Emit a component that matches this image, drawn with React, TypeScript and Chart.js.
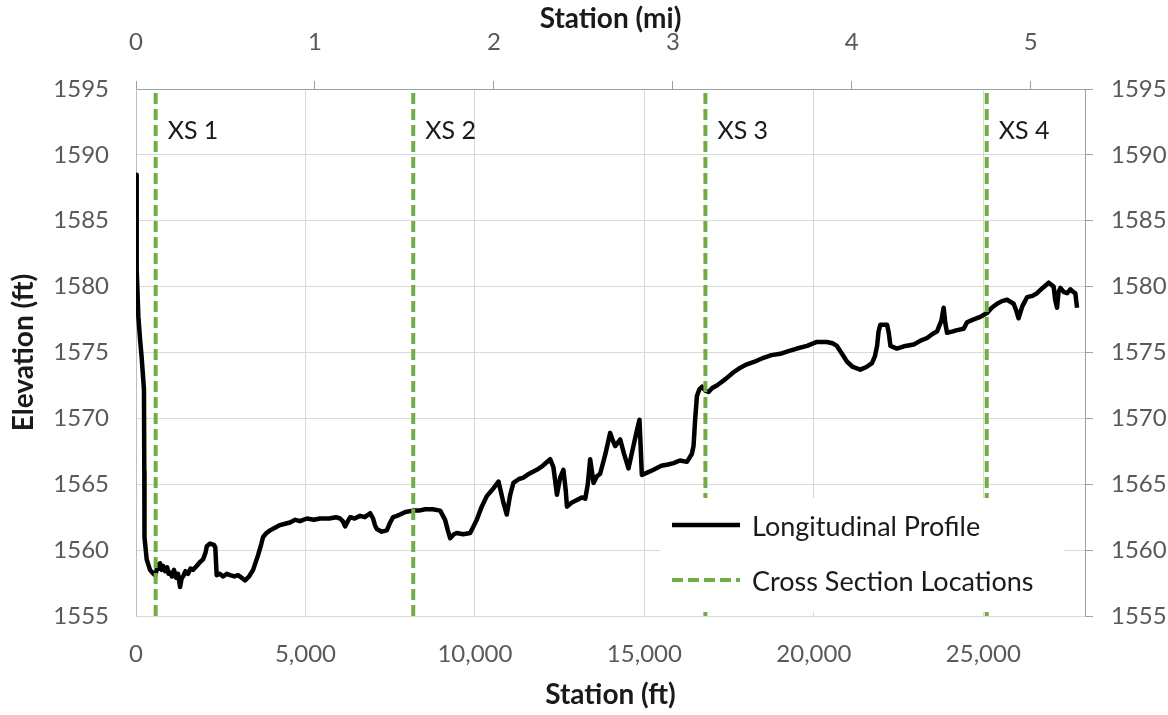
import React, { useEffect, useRef } from "react";
import { Chart, registerables } from "chart.js";

Chart.register(...registerables);

// ---- Data -------------------------------------------------------------
const STATION_FT: number[] = [
  0, 18, 22, 70, 120, 165, 235, 245, 250, 315, 413, 480, 560, 600, 640, 680, 710, 760, 800, 860, 920, 960, 1005,
  1060, 1120, 1180, 1240, 1300, 1350, 1390, 1460, 1535, 1610, 1680, 1790, 1890, 1980, 2050, 2090,
  2185, 2300, 2340, 2380, 2470, 2570, 2680, 2775, 2900, 3010, 3120, 3220, 3335, 3455, 3600, 3700,
  3750, 3850, 3955, 4100, 4250, 4400, 4545, 4700, 4840, 5040, 5250, 5430, 5700, 5900, 6020, 6100,
  6170, 6250, 6320, 6450, 6610, 6750, 6910, 6995, 7050, 7105, 7250, 7400, 7500, 7585, 7700, 7790,
  7950, 8175, 8350, 8530, 8750, 8975, 9120, 9200, 9270, 9380, 9465, 9650, 9860, 10055, 10200, 10350,
  10550, 10695, 10760, 10840, 10940, 11040, 11135, 11300, 11430, 11600, 11825, 12000, 12220, 12315,
  12380, 12420, 12470, 12515, 12610, 12680, 12715, 12850, 13010, 13150, 13255, 13330, 13400, 13450,
  13500, 13600, 13695, 13850, 13990, 14070, 14140, 14200, 14285, 14400, 14530, 14650, 14780, 14855,
  14925, 15100, 15270, 15500, 15700, 15860, 16050, 16255, 16400, 16450, 16500, 16550, 16620, 16700,
  16800, 16895, 17000, 17140, 17400, 17630, 17800, 18025, 18250, 18515, 18750, 19010, 19250, 19500,
  19800, 20090, 20385, 20550, 20680, 20830, 20980, 21150, 21370, 21550, 21715, 21800, 21865, 21910,
  21960, 22160, 22210, 22260, 22450, 22700, 22945, 23150, 23340, 23500, 23635, 23760, 23830, 23880,
  23930, 24100, 24225, 24420, 24520, 24700, 24910, 25110, 25250, 25405, 25550, 25700, 25895, 25970,
  26040, 26150, 26290, 26450, 26585, 26750, 26930, 27075, 27120, 27175, 27220, 27275, 27370, 27470,
  27570, 27650, 27715, 27765,
];

const ELEVATION_FT: number[] = [
  1588.5, 1586.0, 1581.3, 1577.7, 1576.0, 1574.7, 1572.2, 1566.0, 1561.0, 1559.3, 1558.5, 1558.3,
  1558.1, 1558.4, 1558.9, 1558.6, 1559.0, 1558.5, 1558.8, 1558.4, 1558.7, 1558.2, 1558.3, 1558.0, 1558.5, 1557.9, 1558.2,
  1557.2, 1557.9, 1558.0, 1558.4, 1558.2, 1558.6, 1558.5, 1558.8, 1559.1, 1559.3, 1559.8, 1560.3,
  1560.5, 1560.4, 1560.2, 1558.1, 1558.2, 1558.0, 1558.2, 1558.1, 1558.0, 1558.1, 1557.9, 1557.7,
  1558.0, 1558.5, 1559.6, 1560.5, 1561.0, 1561.3, 1561.5, 1561.7, 1561.9, 1562.0, 1562.1, 1562.3,
  1562.2, 1562.4, 1562.3, 1562.4, 1562.4, 1562.5, 1562.4, 1562.2, 1561.8, 1562.2, 1562.5, 1562.4,
  1562.6, 1562.5, 1562.8, 1562.4, 1561.9, 1561.6, 1561.4, 1561.5, 1562.1, 1562.5, 1562.6, 1562.7,
  1562.9, 1563.0, 1563.0, 1563.1, 1563.1, 1563.0, 1562.3, 1561.5, 1560.9, 1561.2, 1561.3, 1561.2,
  1561.3, 1562.3, 1563.3, 1564.1, 1564.7, 1565.2, 1564.5, 1563.6, 1562.7, 1564.2, 1565.1, 1565.4,
  1565.5, 1565.8, 1566.1, 1566.4, 1566.9, 1566.3, 1565.0, 1564.2, 1564.9, 1565.5, 1566.1, 1564.5,
  1563.3, 1563.6, 1563.8, 1564.0, 1563.9, 1565.0, 1566.9, 1566.0, 1565.1, 1565.6, 1565.8, 1567.3,
  1568.9, 1568.3, 1567.9, 1568.1, 1568.4, 1567.3, 1566.2, 1567.6, 1569.1, 1569.9, 1565.7, 1565.9,
  1566.1, 1566.4, 1566.5, 1566.6, 1566.8, 1566.7, 1567.3, 1567.9, 1570.0, 1571.7, 1572.2, 1572.4,
  1572.1, 1572.0, 1572.3, 1572.5, 1573.0, 1573.5, 1573.8, 1574.1, 1574.3, 1574.6, 1574.8, 1574.9,
  1575.1, 1575.3, 1575.5, 1575.8, 1575.8, 1575.7, 1575.5, 1574.9, 1574.3, 1573.9, 1573.7, 1573.9,
  1574.2, 1574.7, 1575.5, 1576.6, 1577.1, 1577.1, 1576.5, 1575.5, 1575.3, 1575.5, 1575.6, 1575.9,
  1576.1, 1576.4, 1576.6, 1577.4, 1578.4, 1577.2, 1576.5, 1576.6, 1576.7, 1576.8, 1577.3, 1577.5,
  1577.7, 1578.0, 1578.4, 1578.7, 1578.9, 1579.0, 1578.7, 1578.2, 1577.6, 1578.5, 1579.2, 1579.3,
  1579.5, 1579.9, 1580.3, 1580.0, 1579.0, 1578.4, 1579.6, 1579.9, 1579.6, 1579.5, 1579.8, 1579.6,
  1579.5, 1578.4,
];

const XS_STATIONS: number[] = [580, 8180, 16800, 25100];
const XS_LABELS: string[] = ["XS 1", "XS 2", "XS 3", "XS 4"];

const SERIES_LABELS: string[] = ["Longitudinal Profile", "Cross Section Locations"];

const FT_TICKS: number[] = [0, 5000, 10000, 15000, 20000, 25000];
const MI_TICKS: number[] = [0, 1, 2, 3, 4, 5];
const ELEV_TICKS: number[] = [1555, 1560, 1565, 1570, 1575, 1580, 1585, 1590, 1595];

const Y_MIN = 1555;
const Y_MAX = 1595;
const X_MIN = 0;
const X_MAX = 28000;
const FT_PER_MILE = 5280;

// ---- Styles -----------------------------------------------------------
const FONT = "Lato, 'Open Sans', sans-serif";
const TICK_COLOR = "#595959";
const TEXT_COLOR = "#1a1a1a";
const GRID_COLOR = "#d9d9d9";
const AXIS_DARK = "#a0a0a0";
const PROFILE_COLOR = "#000000";
const XS_COLOR = "#70AD47";
const XS_DASH = [11, 5];

const setTicks = (values: number[]) => (scale: any) => {
  scale.ticks = values.map((v) => ({ value: v }));
};

const overlayPlugin = {
  id: "overlay",
  afterDatasetsDraw(chart: any) {
    const { ctx, chartArea, scales } = chart;
    ctx.save();
    // cross-section labels
    ctx.font = `25px ${FONT}`;
    ctx.fillStyle = TEXT_COLOR;
    ctx.textAlign = "left";
    ctx.textBaseline = "middle";
    XS_STATIONS.forEach((s, i) => {
      const px = scales.x.getPixelForValue(s) + 12;
      ctx.fillText(XS_LABELS[i], px, chartArea.top + 42);
    });

    // legend box
    const boxW = 404;
    const boxH = 114;
    const bx = chartArea.right - 21 - boxW;
    const by = chartArea.bottom - 4 - boxH;
    ctx.fillStyle = "#ffffff";
    ctx.fillRect(bx, by, boxW, boxH);

    const rows = [by + 27, by + 82];
    chart.data.datasets.forEach((ds: any, i: number) => {
      const y = rows[i];
      ctx.beginPath();
      ctx.strokeStyle = ds.borderColor;
      ctx.lineWidth = ds.borderWidth;
      ctx.setLineDash(ds.borderDash || []);
      ctx.moveTo(bx + 12, y);
      ctx.lineTo(bx + 80, y);
      ctx.stroke();
      ctx.setLineDash([]);
      ctx.font = `27px ${FONT}`;
      ctx.fillStyle = TEXT_COLOR;
      ctx.textBaseline = "middle";
      ctx.fillText(ds.label, bx + 92, y + 2);
    });
    ctx.restore();
  },
};

export default function App() {
  const canvasRef = useRef<HTMLCanvasElement | null>(null);

  useEffect(() => {
    if (!canvasRef.current) return;

    const profileData = STATION_FT.map((x, i) => ({ x, y: ELEVATION_FT[i] }));
    const xsData: any[] = [];
    XS_STATIONS.forEach((s) => {
      xsData.push({ x: s, y: Y_MIN });
      xsData.push({ x: s, y: Y_MAX });
      xsData.push({ x: s, y: null });
    });

    const tickFont = { family: FONT, size: 24 };
    const titleFont = { family: FONT, size: 28, weight: "bold" };

    const chart = new Chart(canvasRef.current, {
      type: "line",
      data: {
        datasets: [
          {
            label: SERIES_LABELS[0],
            data: profileData,
            borderColor: PROFILE_COLOR,
            borderWidth: 4.5,
            pointRadius: 0,
            tension: 0,
            borderJoinStyle: "round",
            xAxisID: "x",
            yAxisID: "y",
            order: 1,
          },
          {
            label: SERIES_LABELS[1],
            data: xsData,
            borderColor: XS_COLOR,
            borderWidth: 4,
            borderDash: XS_DASH,
            pointRadius: 0,
            spanGaps: false,
            xAxisID: "x",
            yAxisID: "y",
            order: 0,
          },
        ],
      },
      options: {
        animation: false,
        responsive: false,
        maintainAspectRatio: false,
        layout: { padding: 0 },
        plugins: {
          legend: { display: false },
          tooltip: { enabled: false },
        },
        scales: {
          x: {
            type: "linear",
            position: "bottom",
            min: X_MIN,
            max: X_MAX,
            afterFit: (s: any) => {
              s.height = 99;
            },
            afterBuildTicks: setTicks(FT_TICKS),
            ticks: {
              padding: 24,
              color: TICK_COLOR,
              font: tickFont,
              maxRotation: 0,
              autoSkip: false,
              callback: (v: any) => Number(v).toLocaleString("en-US"),
            },
            grid: { color: GRID_COLOR, drawTicks: false, lineWidth: 1 },
            border: { color: GRID_COLOR },
            title: {
              display: true,
              text: "Station (ft)",
              color: TEXT_COLOR,
              font: titleFont,
              padding: { top: 0, bottom: 3 },
            },
          },
          x2: {
            type: "linear",
            position: "top",
            min: X_MIN / FT_PER_MILE,
            max: X_MAX / FT_PER_MILE,
            afterFit: (s: any) => {
              s.height = 89;
            },
            afterBuildTicks: setTicks(MI_TICKS),
            ticks: {
              padding: 24,
              color: TICK_COLOR,
              font: tickFont,
              maxRotation: 0,
              autoSkip: false,
              callback: (v: any) => String(v),
            },
            grid: { drawOnChartArea: false, drawTicks: true, tickLength: 8, color: AXIS_DARK },
            border: { color: AXIS_DARK },
            title: {
              display: true,
              text: "Station (mi)",
              color: TEXT_COLOR,
              font: titleFont,
              padding: { top: 2, bottom: 0 },
            },
          },
          y: {
            type: "linear",
            position: "left",
            min: Y_MIN,
            max: Y_MAX,
            afterFit: (s: any) => {
              s.width = 136;
            },
            afterBuildTicks: setTicks(ELEV_TICKS),
            ticks: {
              padding: 27,
              color: TICK_COLOR,
              font: tickFont,
              callback: (v: any) => String(v),
            },
            grid: { color: GRID_COLOR, drawTicks: false },
            border: { color: "#bfbfbf" },
            title: {
              display: true,
              text: "Elevation (ft)",
              color: TEXT_COLOR,
              font: titleFont,
              padding: { top: 7, bottom: 0 },
            },
          },
          y2: {
            type: "linear",
            position: "right",
            min: Y_MIN,
            max: Y_MAX,
            afterFit: (s: any) => {
              s.width = 83;
            },
            afterBuildTicks: setTicks(ELEV_TICKS),
            ticks: {
              padding: 18,
              color: TICK_COLOR,
              font: tickFont,
              callback: (v: any) => String(v),
            },
            grid: { drawOnChartArea: false, drawTicks: true, tickLength: 8, color: AXIS_DARK },
            border: { color: AXIS_DARK },
          },
        },
      } as any,
      plugins: [overlayPlugin],
    });

    return () => chart.destroy();
  }, []);

  return (
    <div style={{ position: "fixed", left: 0, top: 0, width: 1168, height: 715, background: "#fff" }}>
      <canvas ref={canvasRef} width={1168} height={715} style={{ display: "block" }} />
    </div>
  );
}
